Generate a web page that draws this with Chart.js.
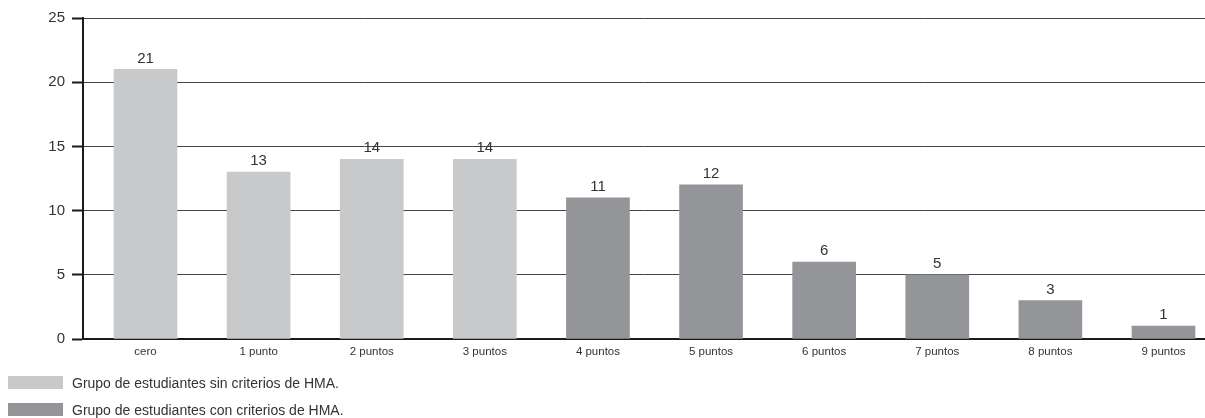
<!DOCTYPE html>
<html>
<head>
<meta charset="utf-8">
<script src="https://cdn.jsdelivr.net/npm/chart.js@4/dist/chart.umd.min.js"></script>
<style>
html,body{margin:0;padding:0;background:#fff;}
#wrap{position:relative;width:1205px;height:418px;}
canvas{position:absolute;left:0;top:0;}
.leg{position:absolute;left:8px;height:14px;font-family:"Liberation Sans",Arial,sans-serif;font-size:14px;color:#333;line-height:14px;white-space:nowrap;}
.leg span.box{display:inline-block;width:55px;height:13px;vertical-align:top;margin-right:9px;}
</style>
</head>
<body>
<div id="wrap">
<canvas id="c" width="1205" height="418"></canvas>
<div class="leg" style="top:376px;"><span class="box" style="background:#c8c9cb"></span>Grupo de estudiantes sin criterios de HMA.</div>
<div class="leg" style="top:403px;"><span class="box" style="background:#939598"></span>Grupo de estudiantes con criterios de HMA.</div>
</div>
<script>
const categories = ["cero","1 punto","2 puntos","3 puntos","4 puntos","5 puntos","6 puntos","7 puntos","8 puntos","9 puntos"];
const sinCriterios = [21,13,14,14,null,null,null,null,null,null];
const conCriterios = [null,null,null,null,11,12,6,5,3,1];
const yTicks = [0,5,10,15,20,25];

function pts(arr){ return arr.map((v,i)=>({x:i,y:v})).filter(p=>p.y!==null); }

const valueLabels = {
  id:'valueLabels',
  afterDatasetsDraw(chart){
    const ctx = chart.ctx;
    ctx.save();
    ctx.font = '15px "Liberation Sans", Arial, sans-serif';
    ctx.fillStyle = '#333';
    ctx.textAlign = 'center';
    ctx.textBaseline = 'middle';
    chart.data.datasets.forEach((ds,di)=>{
      const meta = chart.getDatasetMeta(di);
      meta.data.forEach((el,i)=>{
        ctx.fillText(String(ds.data[i].y), el.x, el.y - 11);
      });
    });
    ctx.restore();
  }
};

new Chart(document.getElementById('c'), {
  type:'bar',
  data:{
    datasets:[
      {label:'Grupo de estudiantes sin criterios de HMA.', data:pts(sinCriterios), backgroundColor:'#c8c9cb', barThickness:63, grouped:false},
      {label:'Grupo de estudiantes con criterios de HMA.', data:pts(conCriterios), backgroundColor:'#939598', barThickness:63, grouped:false}
    ]
  },
  options:{
    responsive:false,
    animation:false,
    events:[],
    layout:{padding:{top:18,right:0,bottom:59,left:0}},
    plugins:{legend:{display:false},tooltip:{enabled:false}},
    scales:{
      x:{
        type:'linear',
        offset:false,
        min:-0.5526,
        max:9.367,
        grid:{display:false, drawTicks:false, offset:false},
        border:{display:true,color:'#1a1a1a',width:2},
        afterFit(s){ s.height = 20; },
        ticks:{
          stepSize:1,
          includeBounds:false,
          autoSkip:false,
          maxRotation:0,
          padding:6,
          color:'#333',
          font:{family:'"Liberation Sans", Arial, sans-serif', size:11.5},
          callback:(v)=> Number.isInteger(v) && categories[v] !== undefined ? categories[v] : ''
        }
      },
      y:{
        min:0,
        max:25,
        afterFit(s){ s.width = 83; },
        afterBuildTicks(s){ s.ticks = yTicks.map(v=>({value:v})); },
        grid:{color:'#444',lineWidth:1,tickColor:'#1a1a1a',tickWidth:2,tickLength:11},
        border:{display:true,color:'#1a1a1a',width:2},
        ticks:{
          padding:7,
          color:'#333',
          font:{family:'"Liberation Sans", Arial, sans-serif', size:15}
        }
      }
    }
  },
  plugins:[valueLabels]
});
</script>
</body>
</html>
